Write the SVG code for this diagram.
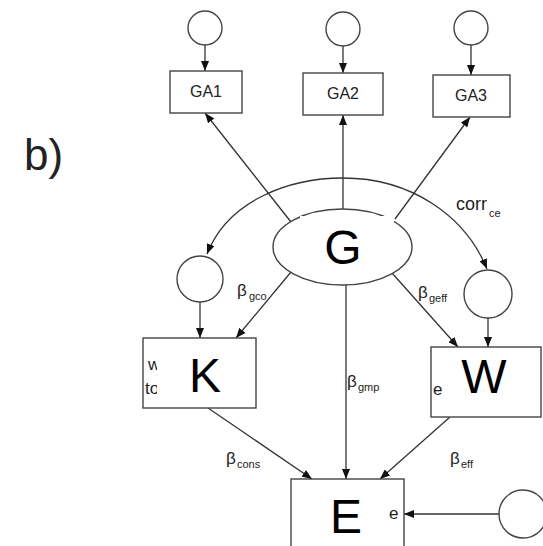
<svg xmlns="http://www.w3.org/2000/svg" width="543" height="546" viewBox="0 0 543 546">
  <defs>
    <marker id="arr" markerUnits="userSpaceOnUse" markerWidth="10" markerHeight="8" refX="10" refY="4" orient="auto">
      <path d="M0,0 L10,4 L0,8 z" fill="#111"/>
    </marker>
    <clipPath id="clipK"><rect x="143" y="340" width="14" height="66"/></clipPath>
    <clipPath id="clipW"><rect x="431" y="349" width="12" height="66"/></clipPath>
    <clipPath id="clipE"><rect x="388" y="495" width="10" height="30"/></clipPath>
  </defs>
  <style>
    .box { fill: #fff; stroke: #444; stroke-width: 1.4; }
    .err { fill: #fff; stroke: #444; stroke-width: 1.4; }
    .edge { fill: none; stroke: #333; stroke-width: 1.3; marker-end: url(#arr); }
    .lbl { font-family: "Liberation Sans", Arial, sans-serif; fill: #222; }
    .ind { font-size: 16px; text-anchor: middle; }
    .big { font-family: "Liberation Sans", Arial, sans-serif; font-size: 48px; fill: #000; text-anchor: middle; }
    .beta { font-size: 17px; }
    .sub { font-size: 11px; }
    .frag { font-family: "Liberation Sans", Arial, sans-serif; font-size: 17px; fill: #222; }
  </style>

  <rect width="543" height="546" fill="#fff"/>

  <text class="lbl" x="24" y="170" font-size="44">b)</text>

  <!-- connectors -->
  <g id="connectors">
    <!-- error terms onto indicators -->
    <line class="edge" x1="205" y1="45" x2="205" y2="71"/>
    <line class="edge" x1="343" y1="46" x2="343" y2="73"/>
    <line class="edge" x1="471" y1="45" x2="471" y2="75"/>
    <!-- G loadings -->
    <line class="edge" x1="291" y1="222" x2="205" y2="113"/>
    <line class="edge" x1="343" y1="209" x2="343" y2="115"/>
    <line class="edge" x1="395" y1="219" x2="470" y2="117"/>
    <!-- correlation of residuals -->
    <path class="edge" d="M343,178 C290,178 228,200 207,254"/>
    <path class="edge" d="M343,178 C410,178 465,215 487,269"/>
    <!-- residual circles onto K and W -->
    <line class="edge" x1="200" y1="302" x2="200" y2="338"/>
    <line class="edge" x1="488" y1="318" x2="488" y2="347"/>
    <!-- G paths -->
    <line class="edge" x1="291" y1="272" x2="236" y2="338"/>
    <line class="edge" x1="392" y1="273" x2="458" y2="347"/>
    <line class="edge" x1="346" y1="285" x2="346" y2="479"/>
    <!-- K, W onto E -->
    <line class="edge" x1="208" y1="408" x2="312" y2="479"/>
    <line class="edge" x1="450" y1="417" x2="380" y2="479"/>
    <!-- residual onto E -->
    <line class="edge" x1="499" y1="514" x2="404" y2="514"/>
  </g>

  <!-- path labels -->
  <g id="labels" class="lbl">
    <text x="456" y="210" font-size="18">corr</text>
    <text class="sub" x="489" y="217">ce</text>
    <text class="beta" x="237" y="296">β</text>
    <text class="sub" x="249" y="300">gco</text>
    <text class="beta" x="418" y="298">β</text>
    <text class="sub" x="429" y="302">geff</text>
    <text class="beta" x="347" y="387">β</text>
    <text class="sub" x="358" y="391">gmp</text>
    <text class="beta" x="226" y="464">β</text>
    <text class="sub" x="237" y="468">cons</text>
    <text class="beta" x="450" y="464">β</text>
    <text class="sub" x="461" y="468">eff</text>
  </g>

  <!-- indicators -->
  <g id="GA1">
    <circle class="err" cx="205" cy="28" r="17"/>
    <rect class="box" x="170" y="71" width="72" height="42"/>
    <text class="lbl ind" x="206" y="97">GA1</text>
  </g>
  <g id="GA2">
    <circle class="err" cx="343" cy="29" r="17"/>
    <rect class="box" x="303" y="73" width="80" height="42"/>
    <text class="lbl ind" x="343" y="99">GA2</text>
  </g>
  <g id="GA3">
    <circle class="err" cx="471" cy="28" r="17"/>
    <rect class="box" x="433" y="75" width="77" height="42"/>
    <text class="lbl ind" x="471" y="101">GA3</text>
  </g>

  <!-- latent factor -->
  <g id="G">
    <ellipse class="box" cx="342.5" cy="247" rx="69.5" ry="38"/>
    <rect x="300" y="216" width="94" height="56" fill="#fff"/>
    <text class="big" x="343" y="264">G</text>
  </g>

  <!-- residual circles -->
  <g id="eK"><circle class="err" cx="200" cy="279" r="23"/></g>
  <g id="eW"><circle class="err" cx="488" cy="294" r="24"/></g>
  <g id="eE"><circle class="err" cx="523" cy="514" r="24"/></g>

  <g id="K">
    <rect class="box" x="143" y="338" width="113" height="70"/>
    <g clip-path="url(#clipK)">
      <text class="frag" x="148" y="370">w</text>
      <text class="frag" x="145" y="394">to</text>
    </g>
    <text class="big" x="205" y="392">K</text>
  </g>

  <g id="W">
    <rect class="box" x="431" y="347" width="110" height="70"/>
    <g clip-path="url(#clipW)">
      <text class="frag" x="433" y="395">e</text>
    </g>
    <text class="big" x="484" y="393">W</text>
  </g>

  <g id="E">
    <rect class="box" x="291" y="479" width="113" height="80"/>
    <g clip-path="url(#clipE)">
      <text class="frag" x="389" y="519">e</text>
    </g>
    <text class="big" x="346" y="533">E</text>
  </g>
</svg>
